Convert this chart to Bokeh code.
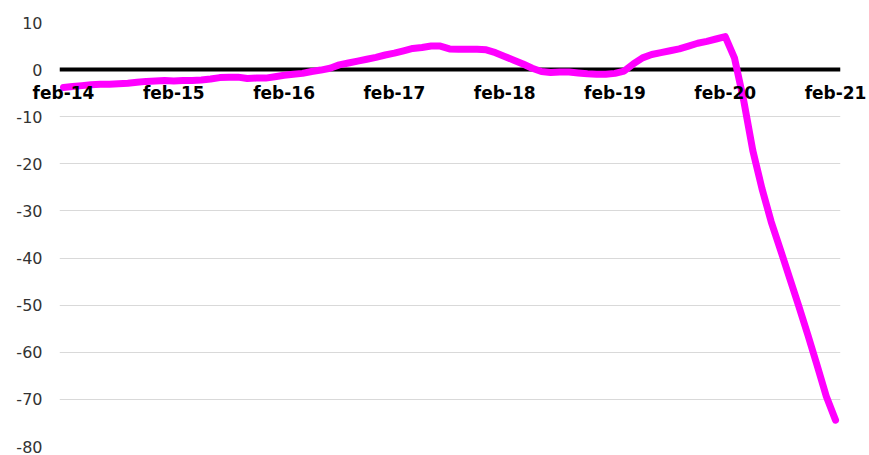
from bokeh.plotting import figure
from bokeh.models import Range1d, FixedTicker, Span
from bokeh.embed import file_html
from bokeh.resources import INLINE

# Monthly series, feb-14 (index 0) .. feb-21 (index 84)
values = [
    -3.8, -3.6, -3.4, -3.2, -3.1, -3.1, -3.0, -2.9, -2.7, -2.5, -2.4, -2.3,
    -2.4, -2.3, -2.3, -2.2, -2.0, -1.7, -1.6, -1.6, -1.9, -1.8, -1.8, -1.5,
    -1.2, -1.0, -0.8, -0.4, -0.1, 0.3, 1.0, 1.4, 1.8, 2.2, 2.6, 3.1,
    3.5, 4.0, 4.5, 4.7, 5.0, 5.0, 4.4, 4.3, 4.3, 4.3, 4.2, 3.6,
    2.8, 2.0, 1.2, 0.3, -0.4, -0.6, -0.5, -0.5, -0.7, -0.9, -1.0, -1.0,
    -0.8, -0.3, 1.2, 2.5, 3.2, 3.6, 4.0, 4.4, 5.0, 5.6, 6.0, 6.5,
    7.0, 2.5, -6.5, -17.2, -25.3, -32.3, -38.2, -44.2, -50.2, -56.4, -62.8, -69.4,
    -74.4,
]
months = list(range(len(values)))

tick_positions = [0, 12, 24, 36, 48, 60, 72, 84]
tick_labels = ["feb-14", "feb-15", "feb-16", "feb-17", "feb-18", "feb-19", "feb-20", "feb-21"]
y_ticks = [-80, -70, -60, -50, -40, -30, -20, -10, 0, 10]
y_tick_labels = ["-80", "-70", "-60", "-50", "-40", "-30", "-20", "-10", "0", "10"]

p = figure(width=869, height=455, output_backend="svg", toolbar_location=None,
           x_range=Range1d(-0.435, 84.54), y_range=Range1d(-80, 10),
           min_border_left=59, min_border_right=29, min_border_top=22, min_border_bottom=9)
p.outline_line_color = None
p.background_fill_color = "white"
p.border_fill_color = "white"

p.xgrid.grid_line_color = None
p.ygrid.grid_line_color = "#d9d9d9"
p.ygrid.grid_line_width = 1

p.yaxis.ticker = FixedTicker(ticks=y_ticks)
p.yaxis.major_label_overrides = {t: l for t, l in zip(y_ticks, y_tick_labels)}
p.yaxis.axis_line_color = None
p.yaxis.major_tick_line_color = None
p.yaxis.minor_tick_line_color = None
p.yaxis.major_label_standoff = 11
p.yaxis.major_label_text_font = "DejaVu Sans"
p.yaxis.major_label_text_font_size = "16px"
p.yaxis.major_label_text_color = "#333333"

# month labels sit just under the zero line (the axis itself stays below the frame)
p.xaxis.ticker = FixedTicker(ticks=tick_positions)
p.xaxis.major_label_overrides = {t: l for t, l in zip(tick_positions, tick_labels)}
p.xaxis.axis_line_color = None
p.xaxis.major_tick_line_color = None
p.xaxis.minor_tick_line_color = None
p.xaxis.major_label_standoff = -370
p.xaxis.major_label_text_font = "DejaVu Sans"
p.xaxis.major_label_text_font_style = "bold"
p.xaxis.major_label_text_font_size = "17px"
p.xaxis.major_label_text_color = "black"

zero_line = Span(location=0, dimension="width", line_color="black", line_width=4, level="underlay")
p.add_layout(zero_line)

p.line(months, values, line_color="#ff00ff", line_width=7, line_join="round", line_cap="round")

open("out.html", "w").write(file_html(p, INLINE))
